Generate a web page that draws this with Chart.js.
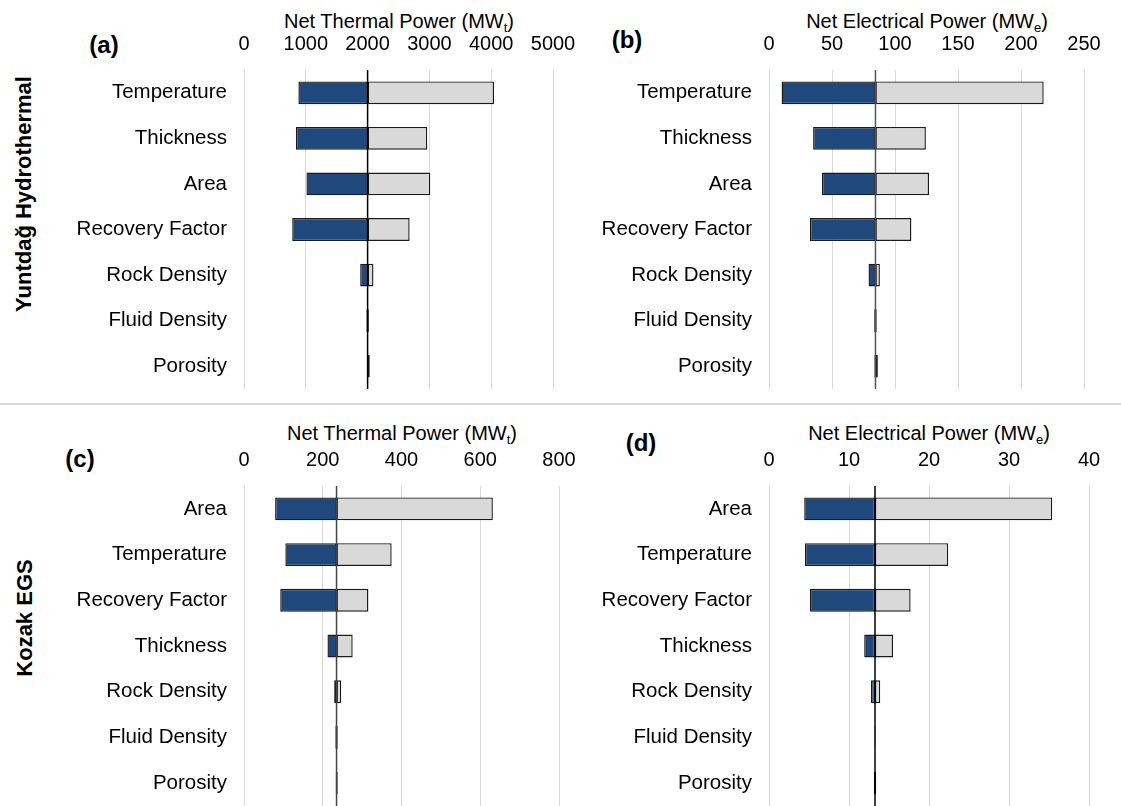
<!DOCTYPE html>
<html>
<head>
<meta charset="utf-8">
<title>Tornado sensitivity – Yuntdağ and Kozak</title>
<script src="https://cdn.jsdelivr.net/npm/chart.js@4.4.1/dist/chart.umd.min.js"></script>
<style>
  html, body { margin: 0; padding: 0; background: #fff; }
  body { width: 1121px; height: 806px; overflow: hidden; position: relative;
         font-family: "Liberation Sans", Arial, sans-serif; color: #000; }
  .abs { position: absolute; }
  .title { font-size: 20px; white-space: nowrap; transform: translate(-50%, -50%); line-height: 1; }
  .title sub { font-size: 13px; vertical-align: -4px; line-height: 0; }
  .letter { font-size: 24px; font-weight: bold; transform: translate(-50%, -50%); line-height: 1; }
  .side { font-size: 22px; font-weight: bold; white-space: nowrap; line-height: 1;
          transform: translate(-50%, -50%) rotate(-90deg); }
  .sep { left: 0; width: 1121px; height: 2px; background: #d9d9d9; }
  canvas { position: absolute; }
</style>
</head>
<body>

<div class="abs side" style="left:24px; top:194px;">Yuntdağ Hydrothermal</div>
<div class="abs side" style="left:25px; top:618px;">Kozak EGS</div>

<div class="abs letter" style="left:104px; top:45px;">(a)</div>
<div class="abs letter" style="left:627px; top:40px;">(b)</div>
<div class="abs letter" style="left:80px; top:459px;">(c)</div>
<div class="abs letter" style="left:641px; top:443px;">(d)</div>

<div class="abs title" style="left:399px; top:21px;">Net Thermal Power (MW<sub>t</sub>)</div>
<div class="abs title" style="left:927px; top:21px;">Net Electrical Power (MW<sub>e</sub>)</div>
<div class="abs title" style="left:402px; top:433px;">Net Thermal Power (MW<sub>t</sub>)</div>
<div class="abs title" style="left:929px; top:433px;">Net Electrical Power (MW<sub>e</sub>)</div>

<div class="abs sep" style="top:403px;"></div>

<script>
// Input parameters, in tornado order (largest swing first)
const yuntdagParams = ['Temperature', 'Thickness', 'Area', 'Recovery Factor', 'Rock Density', 'Fluid Density', 'Porosity'];
const kozakParams   = ['Area', 'Temperature', 'Recovery Factor', 'Thickness', 'Rock Density', 'Fluid Density', 'Porosity'];

// (a) Yuntdağ hydrothermal – net thermal power, MWt
const yuntdagThermalBase = 2000;
const yuntdagThermalLow  = [880, 840, 1010, 780, 1880, 1980, 1988];
const yuntdagThermalHigh = [4045, 2965, 3015, 2680, 2095, 2020, 2035];
const yuntdagThermalTicks = [0, 1000, 2000, 3000, 4000, 5000];

// (b) Yuntdağ hydrothermal – net electrical power, MWe
const yuntdagElectricBase = 84.5;
const yuntdagElectricLow  = [10, 35, 42, 32.5, 79, 83.5, 83.6];
const yuntdagElectricHigh = [218, 124.5, 127, 113, 88, 85.5, 86.4];
const yuntdagElectricTicks = [0, 50, 100, 150, 200, 250];

// (c) Kozak EGS – net thermal power, MWt
const kozakThermalBase = 235;
const kozakThermalLow  = [79, 105, 92, 212, 229, 232, 233];
const kozakThermalHigh = [632, 375, 316, 276, 247, 238, 238];
const kozakThermalTicks = [0, 200, 400, 600, 800];

// (d) Kozak EGS – net electrical power, MWe
const kozakElectricBase = 13.25;
const kozakElectricLow  = [4.4, 4.5, 5.1, 11.9, 12.75, 13.2, 13.1];
const kozakElectricHigh = [35.4, 22.4, 17.7, 15.5, 13.9, 13.3, 13.4];
const kozakElectricTicks = [0, 10, 20, 30, 40];

const LOW_FILL = '#1f497d';
const HIGH_FILL = '#d9d9d9';
const EDGE = '#1a1a1a';
const GRID = '#d9d9d9';
const FAMILY = '"Liberation Sans", Arial, sans-serif';
const TICK_FONT = { family: FAMILY, size: 20 };
const CAT_FONT = { family: FAMILY, size: 20.5 };

// Vertical reference line at the base-case value
const baseLine = {
  id: 'baseLine',
  afterDatasetsDraw(chart, args, opts) {
    const x = chart.scales.x.getPixelForValue(opts.value);
    const { top, bottom } = chart.chartArea;
    const ctx = chart.ctx;
    ctx.save();
    ctx.beginPath();
    ctx.moveTo(x, top);
    ctx.lineTo(x, bottom);
    ctx.lineWidth = 1.5;
    ctx.strokeStyle = opts.color;
    ctx.stroke();
    ctx.restore();
  }
};

function tornado(cfg) {
  const Y_W = 200, X_H = 50, PAD_R = 50, PAD_B = 40;
  const left = cfg.plot.l - Y_W;
  const top = cfg.plot.t - X_H;
  const w = cfg.plot.r - left + PAD_R;
  const h = cfg.plot.b - top + PAD_B;
  const canvas = document.createElement('canvas');
  canvas.width = w; canvas.height = h;
  canvas.style.left = left + 'px';
  canvas.style.top = top + 'px';
  canvas.style.width = w + 'px';
  canvas.style.height = h + 'px';
  document.body.appendChild(canvas);

  const barStyle = {
    borderColor: EDGE,
    borderWidth: 1.4,
    borderSkipped: false,
    grouped: false,
    barPercentage: 0.5,
    categoryPercentage: 1.0
  };

  new Chart(canvas, {
    type: 'bar',
    data: {
      labels: cfg.labels,
      datasets: [
        Object.assign({ label: 'Low', data: cfg.low.map(v => [v, cfg.base]), backgroundColor: LOW_FILL }, barStyle),
        Object.assign({ label: 'High', data: cfg.high.map(v => [cfg.base, v]), backgroundColor: HIGH_FILL }, barStyle)
      ]
    },
    options: {
      indexAxis: 'y',
      responsive: false,
      animation: false,
      devicePixelRatio: 1,
      layout: { padding: { left: 0, top: 0, right: PAD_R, bottom: PAD_B } },
      plugins: {
        legend: { display: false },
        tooltip: { enabled: false },
        baseLine: { value: cfg.base, color: cfg.lineColor }
      },
      scales: {
        x: {
          type: 'linear',
          position: 'top',
          min: cfg.ticks[0],
          max: cfg.ticks[cfg.ticks.length - 1],
          afterBuildTicks: s => { s.ticks = cfg.ticks.map(v => ({ value: v })); },
          afterFit: s => { s.height = X_H; },
          ticks: { color: '#000', font: TICK_FONT, padding: 14, maxRotation: 0, autoSkip: false,
                   callback: v => String(v) },
          grid: { color: GRID, lineWidth: 1, drawTicks: false },
          border: { display: false }
        },
        y: {
          afterFit: s => { s.width = Y_W; },
          ticks: { color: '#000', font: CAT_FONT, padding: 17, autoSkip: false },
          grid: { display: false, drawTicks: false },
          border: { display: false }
        }
      }
    },
    plugins: [baseLine]
  });
}

tornado({ labels: yuntdagParams, low: yuntdagThermalLow, high: yuntdagThermalHigh, base: yuntdagThermalBase,
          ticks: yuntdagThermalTicks, plot: { l: 244, r: 553, t: 70, b: 389 }, lineColor: '#000' });
tornado({ labels: yuntdagParams, low: yuntdagElectricLow, high: yuntdagElectricHigh, base: yuntdagElectricBase,
          ticks: yuntdagElectricTicks, plot: { l: 769, r: 1084, t: 70, b: 389 }, lineColor: '#555' });
tornado({ labels: kozakParams, low: kozakThermalLow, high: kozakThermalHigh, base: kozakThermalBase,
          ticks: kozakThermalTicks, plot: { l: 244, r: 559, t: 486, b: 806 }, lineColor: '#444' });
tornado({ labels: kozakParams, low: kozakElectricLow, high: kozakElectricHigh, base: kozakElectricBase,
          ticks: kozakElectricTicks, plot: { l: 769, r: 1089, t: 486, b: 806 }, lineColor: '#000' });
</script>
</body>
</html>
